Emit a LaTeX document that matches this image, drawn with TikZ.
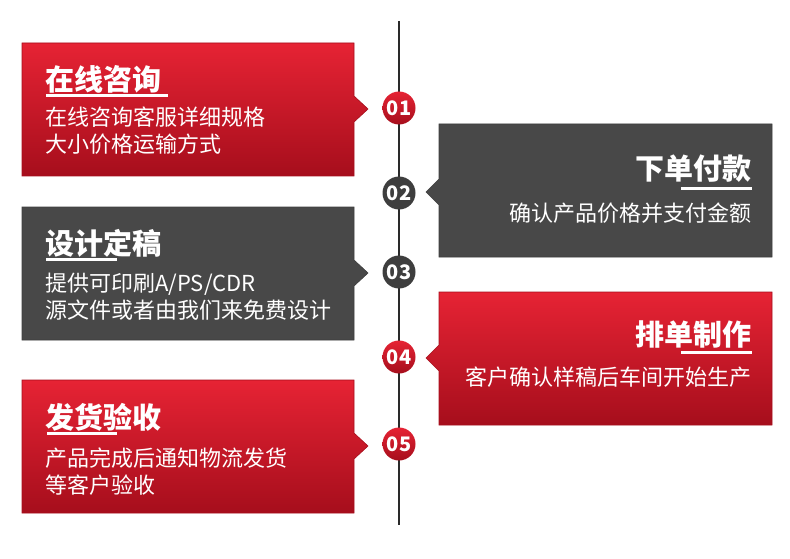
\documentclass[tikz,border=0pt]{standalone}
\usepackage{fontspec}
\setmainfont{Noto Sans CJK SC}
\usepackage{tikz}
\usetikzlibrary{positioning}

\definecolor{redtop}{HTML}{E62334}
\definecolor{redbot}{HTML}{A60E1C}
\definecolor{boxgrey}{HTML}{484848}
\definecolor{dotgrey}{HTML}{3E3E3E}
\definecolor{spinegrey}{HTML}{2A2A2A}

\tikzset{
  redbox/.style={top color=redtop, bottom color=redbot, draw=redbot, line width=0.6pt},
  greybox/.style={fill=boxgrey, draw=dotgrey, line width=0.6pt},
  title/.style={text=white, inner sep=0pt, font=\fontsize{29}{34}\selectfont\bfseries},
  body/.style={text=white, inner sep=0pt, font=\fontsize{22}{27}\selectfont},
  uline/.style={white, line width=3pt},
  dot/.style={circle, minimum size=33pt, inner sep=0pt, text=white,
              font=\fontsize{20}{20}\selectfont\bfseries},
  reddot/.style={dot, top color=redtop, bottom color=redbot},
  greydot/.style={dot, fill=dotgrey}
}

\begin{document}
\begin{tikzpicture}[x=1pt, y=-1pt]
    \useasboundingbox (0,0) rectangle (790,559);

    % left boxes
    \foreach \top/\tip/\sty in {43/109/redbox, 207/273/greybox, 380/446/redbox} {
        \draw[\sty] (22,\top) -- (354,\top) -- (354,\tip-13) -- (368,\tip)
            -- (354,\tip+13) -- (354,\top+133) -- (22,\top+133) -- cycle;
    }
    % right boxes
    \foreach \top/\tip/\sty in {124/192/greybox, 292/358/redbox} {
        \draw[\sty] (439,\top) -- (772,\top) -- (772,\top+133) -- (439,\top+133)
            -- (439,\tip+13) -- (426,\tip) -- (439,\tip-13) -- cycle;
    }

    % spine
    \coordinate (top) at (399,21);
    \coordinate (bot) at (399,525);
    \draw[spinegrey, line width=1.1pt] (top) -- (bot);

    \node[reddot]  (c1) at (399,108) {01};
    \node[greydot] (c2) at (399,193) {02};
    \node[greydot] (c3) at (399,272) {03};
    \node[reddot]  (c4) at (399,357) {04};
    \node[reddot]  (c5) at (399,444) {05};

    % texts (base of a two-line node = last line)
    \node[title, anchor=base west] (t1) at (45,91) {在线咨询};
    \draw[uline] (46,96) -- (168,96);
    \node[body, anchor=base west, align=left] (b1) at (45,153)
        {在线咨询客服详细规格\\大小价格运输方式};

    \node[title, anchor=base east] (t2) at (752,179) {下单付款};
    \draw[uline] (681,188) -- (752,188);
    \node[body, anchor=base east, align=right] (b2) at (752,221)
        {确认产品价格并支付金额};

    \node[title, anchor=base west] (t3) at (45,254) {设计定稿};
    \draw[uline] (46,259) -- (117,259);
    \node[body, anchor=base west, align=left] (b3) at (45,318)
        {提供可印刷A/PS/CDR\\源文件或者由我们来免费设计};

    \node[title, anchor=base east] (t4) at (752,345) {排单制作};
    \draw[uline] (681,352) -- (752,352);
    \node[body, anchor=base east, align=right] (b4) at (752,385)
        {客户确认样稿后车间开始生产};

    \node[title, anchor=base west] (t5) at (45,428) {发货验收};
    \draw[uline] (47,433) -- (117,433);
    \node[body, anchor=base west, align=left] (b5) at (45,493)
        {产品完成后通知物流发货\\等客户验收};
\end{tikzpicture}
\end{document}
